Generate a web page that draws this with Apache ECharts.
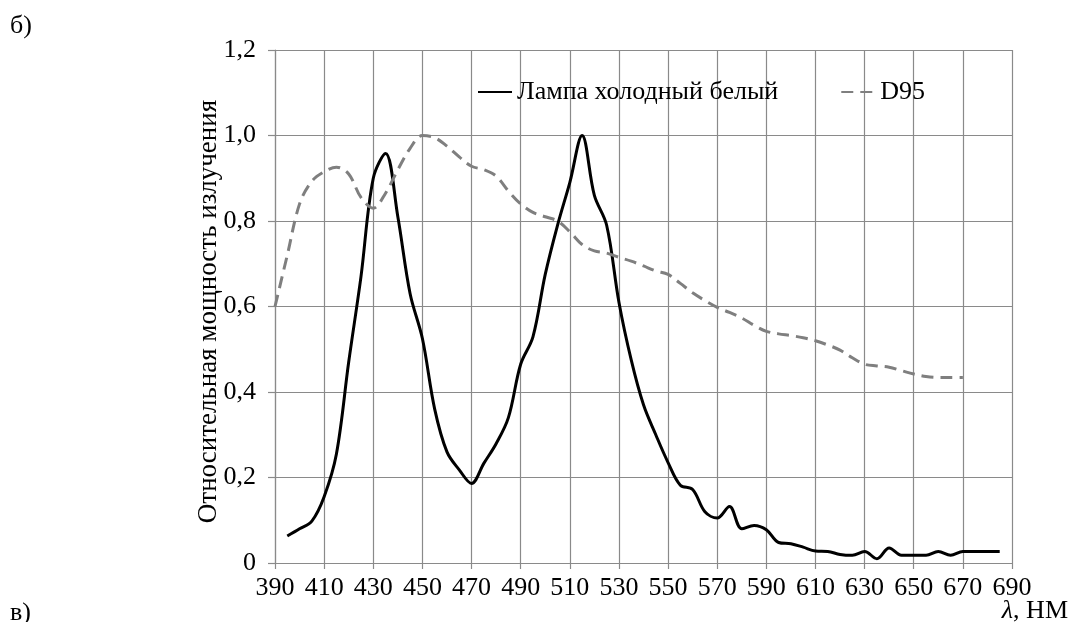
<!DOCTYPE html>
<html>
<head>
<meta charset="utf-8">
<script src="https://cdn.jsdelivr.net/npm/echarts@6/dist/echarts.min.js"></script>
<style>
  html, body { margin: 0; padding: 0; background: #fff; }
  #chart { width: 1072px; height: 622px; }
</style>
</head>
<body>
<div id="chart"></div>
<script>
// ---- data ----
const lampName = 'Лампа холодный белый';
const d95Name = 'D95';
const lampX = [395,400,405,410,415,420,425,430,435,440,445,450,455,460,465,470,475,480,485,490,495,500,505,510,515,520,525,530,535,540,545,550,555,560,565,570,575,580,585,590,595,600,605,610,615,620,625,630,635,640,645,650,655,660,665,670,675,680,685];
const lampY = [0.063,0.080,0.098,0.155,0.255,0.470,0.670,0.900,0.958,0.810,0.630,0.525,0.360,0.260,0.218,0.186,0.233,0.279,0.340,0.465,0.529,0.675,0.790,0.890,1.000,0.860,0.790,0.610,0.475,0.370,0.300,0.235,0.182,0.172,0.120,0.105,0.132,0.080,0.088,0.078,0.048,0.045,0.037,0.028,0.027,0.020,0.018,0.027,0.010,0.035,0.018,0.018,0.018,0.027,0.018,0.027,0.027,0.027,0.027];
const d95X = [390,395,400,405,410,415,420,425,430,435,440,445,450,455,460,465,470,475,480,485,490,495,500,505,510,515,520,525,530,535,540,545,550,555,560,565,570,575,580,585,590,595,600,605,610,615,620,625,630,635,640,645,650,655,660,665,670];
const d95Y = [0.600,0.720,0.840,0.893,0.915,0.926,0.910,0.855,0.830,0.865,0.920,0.970,1.000,0.995,0.975,0.950,0.928,0.920,0.905,0.870,0.840,0.820,0.810,0.800,0.775,0.745,0.730,0.725,0.715,0.706,0.695,0.683,0.675,0.654,0.632,0.614,0.598,0.586,0.573,0.556,0.542,0.536,0.532,0.527,0.520,0.510,0.498,0.480,0.465,0.461,0.458,0.450,0.442,0.436,0.434,0.434,0.434];
const xMin = 390, xMax = 690, xStep = 20;
const yMin = 0, yMax = 1.2, yStep = 0.2;
const yTitle = 'Относительная мощность излучения';
const xTitle = 'λ';
const xUnit = ', НМ';

const FONT = '"Liberation Serif", "Times New Roman", serif';
const FS = 26;
const pairs = (xs, ys) => xs.map((x, i) => [x, ys[i]]);

const chart = echarts.init(document.getElementById('chart'), null, { renderer: 'canvas' });
chart.setOption({
  animation: false,
  backgroundColor: '#ffffff',
  textStyle: { fontFamily: FONT, color: '#000' },
  grid: { left: 275, top: 50, width: 737, height: 513, containLabel: false },
  legend: {
    left: 472, top: 74,
    itemWidth: 34, itemHeight: 14, itemGap: 62,
    itemStyle: { opacity: 0 },
    textStyle: { fontFamily: FONT, fontSize: FS, color: '#000' },
    data: [lampName, d95Name]
  },
  xAxis: {
    type: 'value', min: xMin, max: xMax, interval: xStep,
    axisLine: { show: true, lineStyle: { color: '#8a8a8a', width: 1.2 } },
    axisTick: { show: true, length: 6, lineStyle: { color: '#8a8a8a', width: 1.2 } },
    axisLabel: { fontFamily: FONT, fontSize: FS, color: '#000', margin: 12 },
    splitLine: { show: true, lineStyle: { color: '#8a8a8a', width: 1.2 } }
  },
  yAxis: {
    type: 'value', min: yMin, max: yMax, interval: yStep,
    name: yTitle, nameLocation: 'middle', nameGap: 53, nameRotate: 90,
    nameMoveOverlap: false,
    nameTextStyle: { fontFamily: FONT, fontSize: 27, color: '#000', padding: [0, 10, 0, 0] },
    axisLine: { show: true, lineStyle: { color: '#8a8a8a', width: 1.2 } },
    axisTick: { show: true, length: 7, lineStyle: { color: '#8a8a8a', width: 1.2 } },
    axisLabel: {
      fontFamily: FONT, fontSize: FS, color: '#000', margin: 19,
      formatter: v => (Math.abs(v) < 1e-9 ? '0' : v.toFixed(1).replace('.', ','))
    },
    splitLine: { show: true, lineStyle: { color: '#8a8a8a', width: 1.2 } }
  },
  graphic: [
    { type: 'text', left: 10, top: 13, style: { text: 'б)', font: FS + 'px ' + FONT, fill: '#000' } },
    { type: 'text', left: 10, top: 600, style: { text: 'в)', font: FS + 'px ' + FONT, fill: '#000' } },
    { type: 'text', right: 4, top: 598, style: {
        text: '{i|' + xTitle + '}' + xUnit,
        font: FS + 'px ' + FONT, fill: '#000',
        rich: { i: { fontStyle: 'italic', fontFamily: FONT, fontSize: FS, fill: '#000' } }
    } }
  ],
  series: [
    {
      name: lampName, type: 'line', data: pairs(lampX, lampY),
      symbol: 'none', smooth: 0.35,
      lineStyle: { color: '#000', width: 3 }, itemStyle: { color: '#000' }
    },
    {
      name: d95Name, type: 'line', data: pairs(d95X, d95Y),
      symbol: 'none', smooth: 0.35,
      lineStyle: { color: '#7f7f7f', width: 3, type: [12, 7] }, itemStyle: { color: '#7f7f7f' }
    }
  ]
});
</script>
</body>
</html>
